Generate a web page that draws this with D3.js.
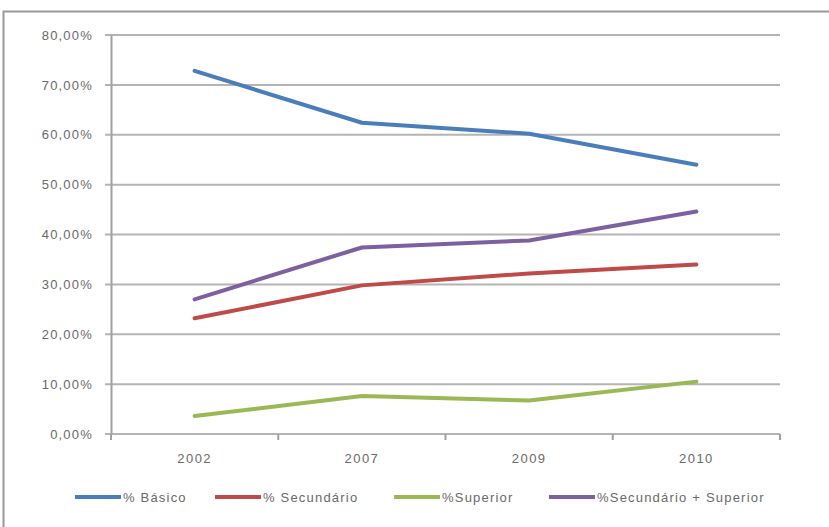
<!DOCTYPE html>
<html><head><meta charset="utf-8">
<script src="https://cdn.jsdelivr.net/npm/d3@7"></script>
<style>body{margin:0;background:#fff}svg{display:block}</style>
</head><body><svg id="c" width="829" height="527"></svg>
<script>
const years = ["2002","2007","2009","2010"];
const seriesNames = ["% Básico","% Secundário","%Superior","%Secundário + Superior"];
const basico = [72.8, 62.4, 60.2, 54.0];
const secundario = [23.2, 29.8, 32.2, 34.0];
const superior = [3.6, 7.6, 6.7, 10.5];
const secSup = [27.0, 37.4, 38.8, 44.6];
const yTicks = [0,10,20,30,40,50,60,70,80];
const colors = ["#4a7ebb","#be4b48","#98b954","#7d60a0"];

const svg = d3.select("#c");
const allSeries = [basico, secundario, superior, secSup];
const L = 111, R = 780, T = 35, B = 434;

// outer border
svg.append("rect").attr("x",3.5).attr("y",11.5).attr("width",900).attr("height",600)
  .attr("fill","none").attr("stroke","#9a9a9a").attr("stroke-width",2);

const x = d3.scaleBand().domain(years).range([L,R]);
const y = d3.scaleLinear().domain([0,80]).range([B,T]);

// gridlines
svg.append("g").selectAll("line").data(yTicks).join("line")
  .attr("x1",L-6).attr("x2",R).attr("y1",d=>y(d)).attr("y2",d=>y(d))
  .attr("stroke","#b4b4b4").attr("stroke-width",2);

// y axis
const ya = svg.append("g").attr("transform",`translate(${L},0)`)
  .call(d3.axisLeft(y).tickValues(yTicks).tickSize(0).tickPadding(18)
    .tickFormat(d=>d3.format(".2f")(d).replace(".",",")+"%"));
ya.select(".domain").attr("stroke","#a0a0a0").attr("stroke-width",2);
ya.selectAll("text").attr("font-family","Liberation Sans, Arial, sans-serif")
  .attr("font-size",13).attr("fill","#6a6a6a").attr("letter-spacing","1.2px");

// x axis
const xa = svg.append("g").attr("transform",`translate(0,${B})`)
  .call(d3.axisBottom(x).tickSize(0).tickPadding(20));
xa.select(".domain").remove();
xa.selectAll("text").attr("font-family","Liberation Sans, Arial, sans-serif")
  .attr("font-size",13).attr("fill","#6a6a6a").attr("letter-spacing","1.5px");
const bounds = years.map(d=>x(d)).concat([R]);
svg.append("g").selectAll("line").data(bounds).join("line")
  .attr("x1",d=>d).attr("x2",d=>d).attr("y1",B).attr("y2",B+6)
  .attr("stroke","#a0a0a0").attr("stroke-width",2);

// lines
const line = d3.line().x((d,i)=>x(years[i])+x.bandwidth()/2).y(d=>y(d));
svg.append("g").selectAll("path").data(allSeries).join("path")
  .attr("d",d=>line(d)).attr("fill","none")
  .attr("stroke",(d,i)=>colors[i]).attr("stroke-width",4)
  .attr("stroke-linejoin","round").attr("stroke-linecap","round");

// legend
const legX = [75, 215, 394, 549];
const lg = svg.append("g").selectAll("g").data(seriesNames).join("g")
  .attr("transform",(d,i)=>`translate(${legX[i]},497)`);
lg.append("line").attr("x1",0).attr("x2",46).attr("y1",0).attr("y2",0)
  .attr("stroke",(d,i)=>colors[i]).attr("stroke-width",4);
lg.append("text").attr("x",48).attr("y",5).text(d=>d)
  .attr("font-family","Liberation Sans, Arial, sans-serif").attr("font-size",13)
  .attr("fill","#6a6a6a").attr("letter-spacing","1.2px");
</script></body></html>
